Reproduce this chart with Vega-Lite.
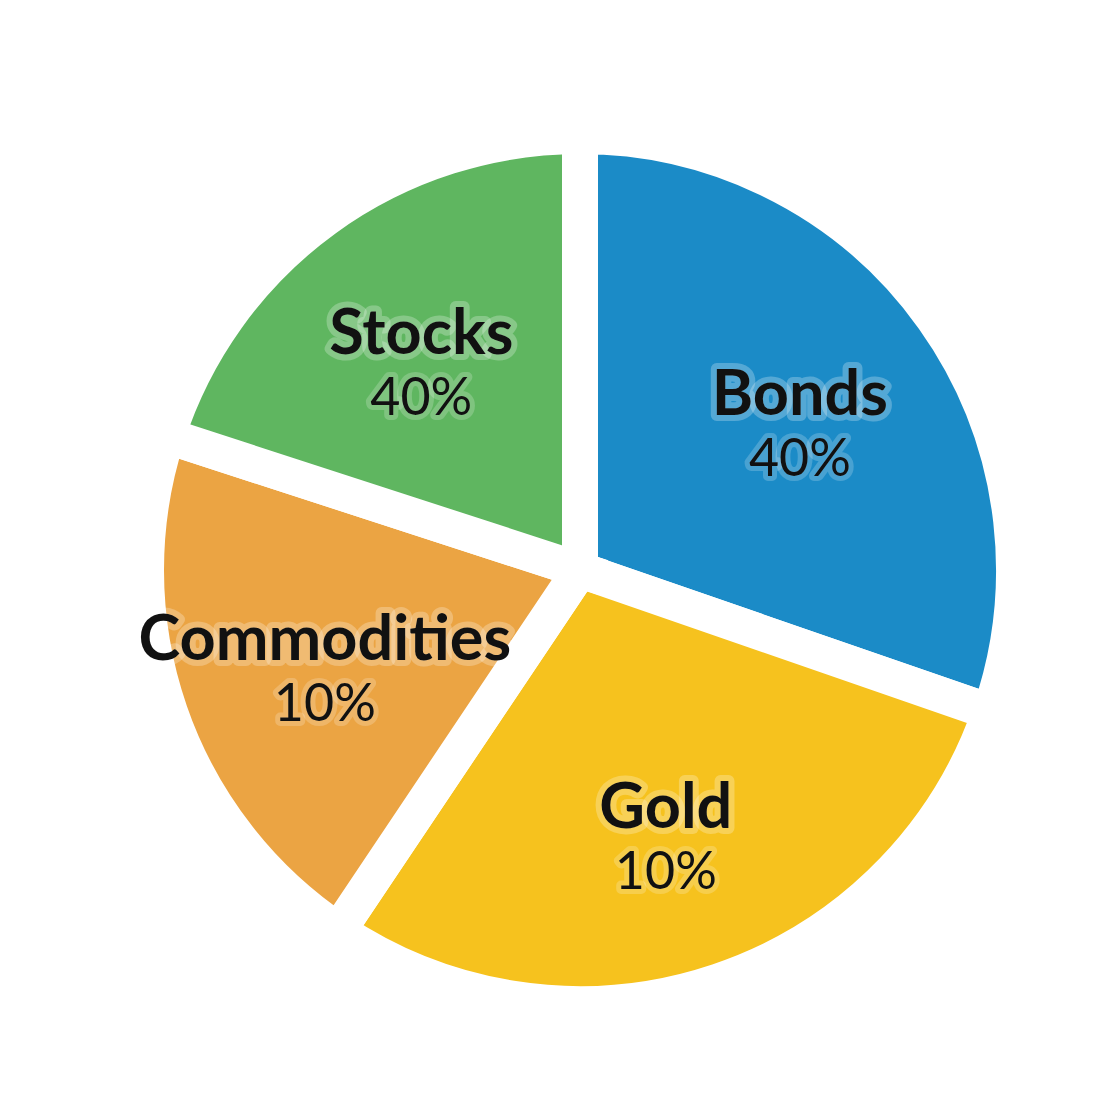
{
  "$schema": "https://vega.github.io/schema/vega-lite/v6.json",
  "autosize": {"type": "fit", "contains": "padding"},
  "width": 1120,
  "height": 1120,
  "padding": {"left": 60, "right": 20, "top": 40, "bottom": 20},
  "background": "#ffffff",
  "config": {"view": {"stroke": null}},
  "data": {
    "values": [
      {"asset": "Bonds", "share": 30.3, "label": "40%", "rank": 1},
      {"asset": "Gold", "share": 29.1, "label": "10%", "rank": 2},
      {"asset": "Commodities", "share": 20.6, "label": "10%", "rank": 3},
      {"asset": "Stocks", "share": 20.0, "label": "40%", "rank": 4}
    ]
  },
  "encoding": {
    "theta": {"field": "share", "type": "quantitative", "stack": true},
    "order": {"field": "rank", "type": "quantitative"}
  },
  "layer": [
    {
      "mark": {"type": "arc", "outerRadius": 434, "stroke": "#ffffff", "strokeWidth": 36, "strokeJoin": "miter"},
      "encoding": {
        "color": {
          "field": "asset",
          "type": "nominal",
          "scale": {
            "domain": ["Bonds", "Gold", "Commodities", "Stocks"],
            "range": ["#1b8bc7", "#f6c21e", "#eba443", "#5fb660"]
          },
          "legend": null
        }
      }
    },
    {
      "mark": {"type": "text", "radius": 270, "dy": -17, "font": "Lato", "fontWeight": "bold", "fontSize": 63, "stroke": "#ffffff", "strokeWidth": 12, "strokeOpacity": 0.25, "strokeJoin": "round", "fill": "#ffffff", "fillOpacity": 0.3},
      "encoding": {"text": {"field": "asset"}}
    },
    {
      "mark": {"type": "text", "radius": 270, "dy": -17, "font": "Lato", "fontWeight": "bold", "fontSize": 63, "fill": "#111111"},
      "encoding": {"text": {"field": "asset"}}
    },
    {
      "mark": {"type": "text", "radius": 270, "dy": 47, "font": "Lato", "fontSize": 52, "stroke": "#ffffff", "strokeWidth": 10, "strokeOpacity": 0.2, "strokeJoin": "round", "fill": "#ffffff", "fillOpacity": 0.25},
      "encoding": {"text": {"field": "label"}}
    },
    {
      "mark": {"type": "text", "radius": 270, "dy": 47, "font": "Lato", "fontSize": 52, "fill": "#111111"},
      "encoding": {"text": {"field": "label"}}
    }
  ]
}
